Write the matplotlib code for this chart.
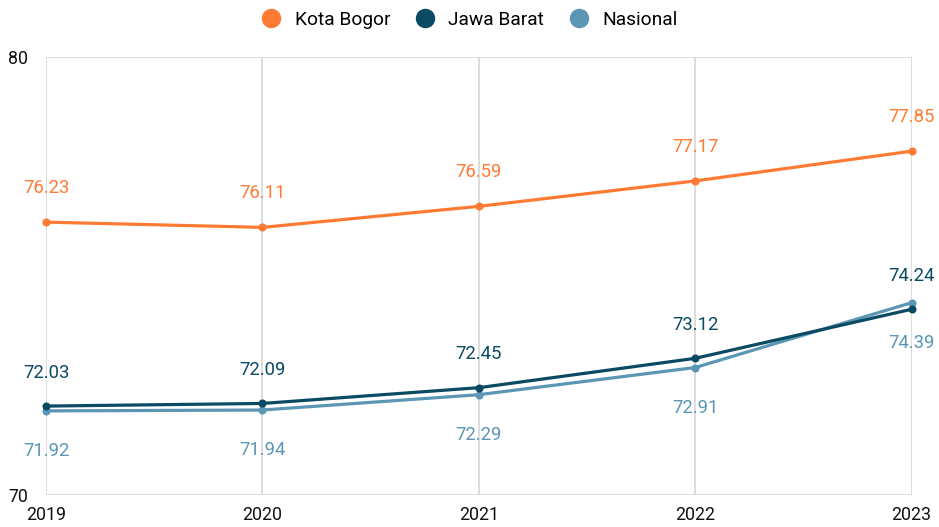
import matplotlib.pyplot as plt
from matplotlib.lines import Line2D

plt.rcParams['font.family'] = ['Roboto', 'DejaVu Sans']

years = [2019, 2020, 2021, 2022, 2023]
kota_bogor = [76.23, 76.11, 76.59, 77.17, 77.85]
jawa_barat = [72.03, 72.09, 72.45, 73.12, 74.24]
nasional = [71.92, 71.94, 72.29, 72.91, 74.39]

c_bogor = '#FF7A33'
c_jabar = '#0B4A63'
c_nas = '#5B96B5'

W, H = 939, 527
fig = plt.figure(figsize=(W / 100, H / 100), dpi=100)
ax = fig.add_axes([46 / W, 1 - 495 / H, (911.5 - 46) / W, (495 - 57) / H])

for vals, col in [(nasional, c_nas), (jawa_barat, c_jabar), (kota_bogor, c_bogor)]:
    ax.plot(years, vals, color=col, lw=2.3, marker='o', ms=4.8, zorder=3,
            solid_capstyle='round', clip_on=False)

# value labels
lab_fs = 13.3
for x, v in zip(years, kota_bogor):
    ax.annotate(f'{v:.2f}', (x, v), xytext=(0, 24.5), textcoords='offset points',
                ha='center', va='center', color=c_bogor, fontsize=lab_fs)
for x, v in zip(years, jawa_barat):
    ax.annotate(f'{v:.2f}', (x, v), xytext=(0, 24), textcoords='offset points',
                ha='center', va='center', color=c_jabar, fontsize=lab_fs)
for x, v in zip(years, nasional):
    ax.annotate(f'{v:.2f}', (x, v), xytext=(0, -29), textcoords='offset points',
                ha='center', va='center', color=c_nas, fontsize=lab_fs)

ax.set_xlim(2019, 2023)
ax.set_ylim(70, 80)
ax.set_xticks(years)
ax.set_yticks([70, 80])
ax.grid(True, color='#DADADA', lw=1.3)
ax.set_axisbelow(True)
for s in ax.spines.values():
    s.set_visible(False)
ax.tick_params(length=0, labelsize=12.8, colors='#111111')
ax.tick_params(axis='x', pad=8)
ax.tick_params(axis='y', pad=13)

handles = [Line2D([], [], ls='none', marker='o', ms=13, color=c) for c in (c_bogor, c_jabar, c_nas)]
fig.legend(handles, ['Kota Bogor', 'Jawa Barat', 'Nasional'], loc='center',
           bbox_to_anchor=(0.5, 1 - 20 / H), ncol=3, frameon=False, fontsize=13.8,
           handlelength=1.0, handletextpad=0.72, columnspacing=1.3)

fig.savefig('out.png', dpi=100)
